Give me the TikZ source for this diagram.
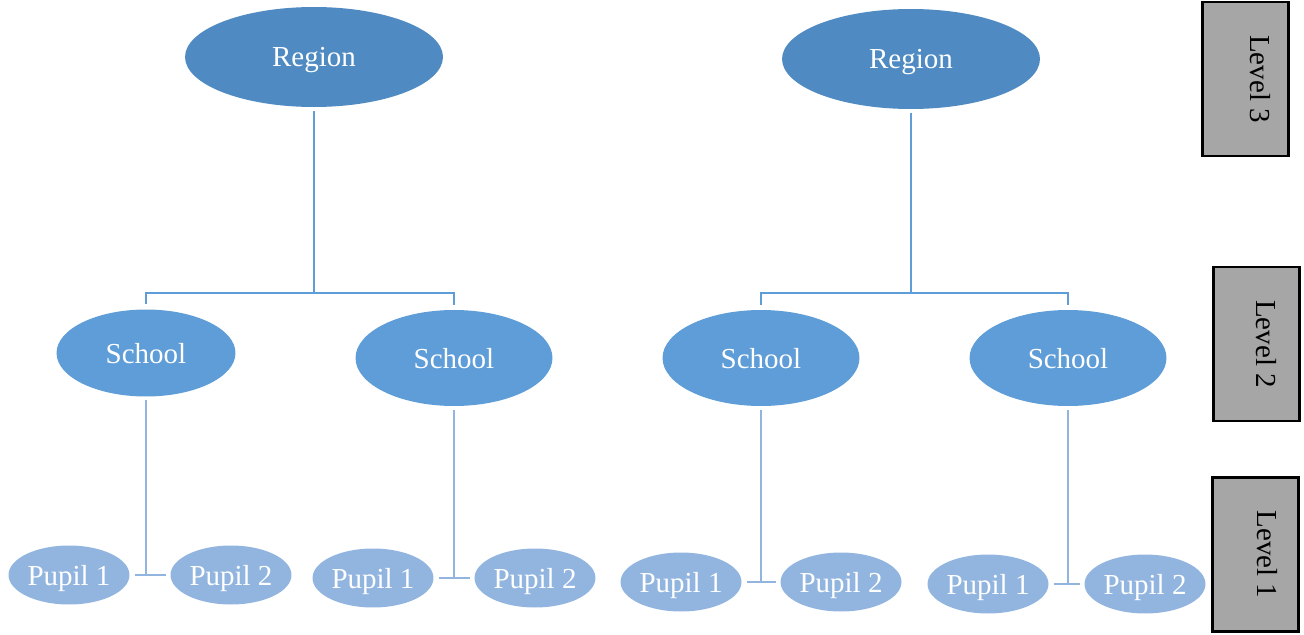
\documentclass[tikz,border=0pt]{standalone}
\usepackage{fontspec}
\setmainfont{Liberation Serif}
\usetikzlibrary{shapes.geometric}
\definecolor{regionblue}{HTML}{4F8BC2}
\definecolor{schoolblue}{HTML}{5E9DD7}
\definecolor{pupilblue}{HTML}{92B5E0}
\definecolor{levelgray}{HTML}{A6A6A6}

\begin{document}
\begin{tikzpicture}[
        x=0.02cm, y=-0.02cm,
        region/.style={ellipse, fill=regionblue, text=white, inner sep=0pt, text depth=0pt, minimum width=5.16cm, minimum height=2cm},
        school/.style={ellipse, fill=schoolblue, text=white, inner sep=0pt, text depth=0pt, minimum width=3.94cm, minimum height=1.92cm},
        pupil/.style={ellipse, fill=pupilblue, text=white, inner sep=0pt, text depth=0pt, minimum width=2.42cm, minimum height=1.18cm},
        levelbox/.style={draw=black, line width=1.4pt, fill=levelgray, minimum width=1.72cm, minimum height=3.08cm},
        leveltext/.style={rotate=-90},
        upper/.style={draw=schoolblue, line width=1.3pt},
        lower/.style={draw=pupilblue, line width=1.3pt},
        font=\fontsize{16.5}{19}\selectfont
        ]
        \useasboundingbox (0,0) rectangle (1304,635);

        % top level
        \node[region] (r1) at (314,57) {Region};
        \node[region] (r2) at (911,59) {Region};

        % schools
        \node[school, minimum width=3.58cm, minimum height=1.74cm] (s1) at (146,353) {School};
        \node[school] (s2) at (454,358) {School};
        \node[school] (s3) at (761,358) {School};
        \node[school] (s4) at (1068,358) {School};

        \coordinate (j1) at (314,293);
        \coordinate (j2) at (911,293);
        \draw[upper, shorten <=2.3pt] (r1.south) -- (j1);
        \draw[upper, shorten <=2.3pt] (r2.south) -- (j2);
        \draw[upper, shorten >=2.8pt] (j1) -| (s1.north);
        \draw[upper, shorten >=2.8pt] (j1) -| (s2.north);
        \draw[upper, shorten >=2.8pt] (j2) -| (s3.north);
        \draw[upper, shorten >=2.8pt] (j2) -| (s4.north);

        % pupils
        \foreach \i/\xa/\xb/\y in {1/69/231/575, 2/373/535/578, 3/681/841/582, 4/988/1145/584} {
          \node[pupil] (p\i a) at (\xa,\y) {Pupil 1};
          \node[pupil] (p\i b) at (\xb,\y) {Pupil 2};
          \draw[lower, shorten <=2.8pt, shorten >=2.5pt] (p\i a.east) -- (p\i b.west);
          \draw[lower, shorten <=2pt] (s\i.south) -- (s\i.south |- p\i a.east);
        }

        % level labels
        \node[levelbox] (l3) at (1245.5,79) {};
        \node[levelbox] (l2) at (1256.5,344) {};
        \node[levelbox] (l1) at (1255.5,554.5) {};
        \node[leveltext] (t3) at ([xshift=0.3cm]l3.center) {Level 3};
        \node[leveltext] (t2) at ([xshift=0.2cm]l2.center) {Level 2};
        \node[leveltext] (t1) at ([xshift=0.24cm]l1.center) {Level 1};
      \end{tikzpicture}
\end{document}
